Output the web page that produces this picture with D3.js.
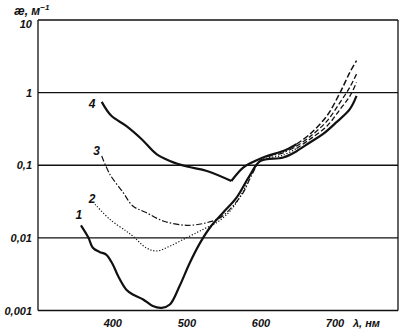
<!DOCTYPE html>
<html>
<head>
<meta charset="utf-8">
<script src="https://cdn.jsdelivr.net/npm/d3@7"></script>
<style>
  body { margin: 0; background: #fff; }
  svg text { font-family: "Liberation Sans", Arial, sans-serif; font-style: italic; font-weight: bold; fill: #111; }
</style>
</head>
<body>
<svg id="chart" width="402" height="335"></svg>
<script>
// Tick values and labels
var xTicks = [400, 500, 600, 700];
var yTicks = [10, 1, 0.1, 0.01, 0.001];
var yTickLabels = ["10", "1", "0,1", "0,01", "0,001"];

// Curve 1 (solid, lowest minimum)
var wl1 = [357, 367, 373, 382, 391, 400, 407, 418, 427, 441, 454, 466, 477, 490, 504, 518, 531, 549, 567, 585, 599, 630, 648, 666, 684, 702, 720, 729];
var k1 = [0.0149, 0.0101, 0.0073, 0.0064, 0.0059, 0.0043, 0.0030, 0.00195, 0.00166, 0.00142, 0.00115, 0.00109, 0.00121, 0.00216, 0.00455, 0.0086, 0.0138, 0.0223, 0.0358, 0.0728, 0.114, 0.128, 0.156, 0.206, 0.27, 0.392, 0.592, 0.90];

// Curve 2 (dotted) and its dashed tail
var wl2 = [376, 396, 418, 427, 445, 459, 477, 500, 522, 540, 558, 576, 586, 600, 630, 648];
var k2 = [0.029, 0.018, 0.0124, 0.0106, 0.0073, 0.0066, 0.0077, 0.0101, 0.0131, 0.0162, 0.0232, 0.0438, 0.0728, 0.117, 0.138, 0.170];
var wl2Tail = [648, 666, 689, 707, 720, 729];
var k2Tail = [0.170, 0.228, 0.345, 0.592, 0.895, 1.38];

// Curve 3 (dash-dot) and its dashed tail
var wl3 = [385, 396, 414, 427, 445, 468, 500, 527, 545, 558, 576, 588, 601, 630, 648];
var k3 = [0.134, 0.0752, 0.042, 0.0275, 0.0223, 0.0171, 0.0149, 0.0162, 0.019, 0.0247, 0.042, 0.075, 0.121, 0.148, 0.183];
var wl3Tail = [648, 666, 689, 707, 720, 729];
var k3Tail = [0.183, 0.247, 0.405, 0.74, 1.19, 1.80];

// Curve 4 (solid, with a sharp minimum) and its dashed tail
var wl4 = [385, 398, 418, 439, 459, 477, 500, 527, 560, 576, 592, 608, 630, 648];
var k4 = [0.746, 0.479, 0.348, 0.228, 0.142, 0.1146, 0.096, 0.0834, 0.0607, 0.093, 0.1146, 0.134, 0.157, 0.195];
var k4Corner = 8;
var wl4Tail = [648, 666, 689, 707, 720, 729];
var k4Tail = [0.195, 0.268, 0.479, 1.01, 1.90, 2.75];

// Curve number labels: [number, wavelength, value]
var curveLabels = [["4", 372, 0.62], ["3", 378, 0.14], ["2", 372, 0.03], ["1", 354, 0.018]];

var svg = d3.select("#chart");
var plotLeft = 38, plotRight = 398, plotTop = 20, plotBottom = 310.5;

var x = d3.scaleLinear().domain([299, 785]).range([plotLeft, plotRight]);
var y = d3.scaleLog().domain([0.001, 10]).range([plotBottom, plotTop]);

function zip(a, b) { return a.map(function (d, i) { return [d, b[i]]; }); }

var line = d3.line()
    .x(function (d) { return x(d[0]); })
    .y(function (d) { return y(d[1]); })
    .curve(d3.curveCatmullRom.alpha(0.5));

// Frame and horizontal grid
var g = svg.append("g").style("stroke", "#111").style("stroke-width", 1.3);
yTicks.forEach(function (t) {
    g.append("line").attr("x1", plotLeft).attr("x2", plotRight).attr("y1", y(t)).attr("y2", y(t));
});
g.append("line").attr("x1", plotLeft).attr("x2", plotLeft).attr("y1", plotTop).attr("y2", plotBottom);
g.append("line").attr("x1", plotRight).attr("x2", plotRight).attr("y1", plotTop).attr("y2", plotBottom);

// Tick labels (the top one sits just under the frame, below the axis title)
yTicks.forEach(function (t, i) {
    svg.append("text").attr("x", 32).attr("y", Math.max(y(t) + 4, 28))
        .attr("text-anchor", "end").style("font-size", "11px")
        .text(yTickLabels[i]);
});
xTicks.forEach(function (t) {
    svg.append("text").attr("x", x(t)).attr("y", 327)
        .attr("text-anchor", "middle").style("font-size", "11px")
        .text(t);
});
svg.append("text").attr("x", 353).attr("y", 327).style("font-size", "11px").text("λ, нм");

var yl = svg.append("text").attr("x", 14).attr("y", 15).style("font-size", "12px");
yl.append("tspan").text("æ, м");
yl.append("tspan").attr("dy", -5).style("font-size", "8px").text("−1");

// Curves
function draw(pts, width, dash) {
    svg.append("path").attr("d", line(pts))
        .style("fill", "none").style("stroke", "#111")
        .style("stroke-width", width)
        .style("stroke-dasharray", dash || null);
}

var c4 = zip(wl4, k4);
draw(zip(wl1, k1), 2.2);
draw(zip(wl2, k2), 1.2, "1.2,1.8");
draw(zip(wl2Tail, k2Tail), 1.3, "5,2.5");
draw(zip(wl3, k3), 1.2, "6,2,1.5,2");
draw(zip(wl3Tail, k3Tail), 1.3, "5,2.5");
draw(c4.slice(0, k4Corner + 1), 2.2);
draw(c4.slice(k4Corner), 2.2);
draw(zip(wl4Tail, k4Tail), 1.5, "6,2.5");

curveLabels.forEach(function (c) {
    svg.append("text").attr("x", x(c[1])).attr("y", y(c[2]))
        .attr("text-anchor", "middle").style("font-size", "12px")
        .text(c[0]);
});
</script>
</body>
</html>
